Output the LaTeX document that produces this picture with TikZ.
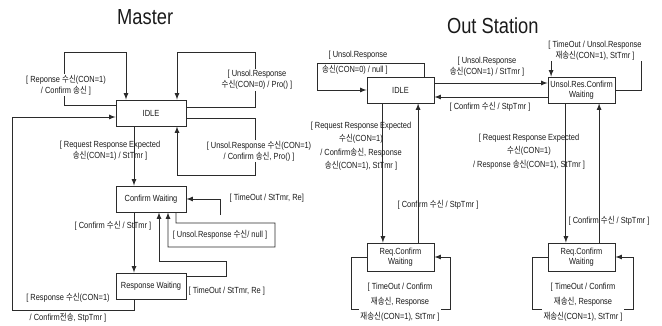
\documentclass[tikz,border=0pt]{standalone}
\usepackage{fontspec}
\usepackage{xcolor}
\usepackage{tikz}
\setmainfont{Liberation Sans}[FakeStretch=0.84]
\newfontfamily\krfont{Noto Sans CJK KR}[FakeStretch=0.84]
\newcommand{\ko}[1]{{\krfont #1}}
\definecolor{LineGray}{HTML}{2B2B2B}
\definecolor{TextBlack}{HTML}{1A1A1A}

\begin{document}
\begin{tikzpicture}[
  state/.style={rectangle, draw=LineGray, line width=0.6pt, fill=white, align=center, minimum width=1.75cm, minimum height=0.65cm, inner sep=1pt, text=TextBlack, font=\fontsize{6.3}{7.4}\selectfont},
  ostate/.style={state, minimum width=1.675cm},
  lbl/.style={align=center, inner sep=1pt, text=TextBlack, font=\fontsize{6.3}{7.8}\selectfont},
  wlbl/.style={lbl, fill=white},
  title/.style={anchor=base, text=TextBlack, font=\fontsize{15.5}{18}\selectfont},
  arrow/.style={-latex, line width=0.6pt, draw=LineGray}
]
\useasboundingbox (0,0) rectangle (16.55,-8.15);

% Master
\node[title] (mtitle) at (3.63,-0.625) {Master};
\node[state] (midle) at (3.775,-2.825) {IDLE};
\node[state] (mconf) at (3.775,-4.975) {Confirm Waiting};
\node[state] (mresp) at (3.775,-7.15) {Response Waiting};
\coordinate (mtoa) at (5.5,-5.375);

\draw[arrow] ([yshift=0.2cm]midle.west) -| (1.6,-1.3) -| ([xshift=-0.625cm]midle.north);
\draw[arrow] ([yshift=0.15cm]midle.east) -| (6.375,-1.3) -| ([xshift=0.65cm]midle.north);
\draw[arrow] ([yshift=-0.125cm]midle.east) -| (6.375,-4.375) -| ([xshift=0.65cm]midle.south);
\draw[arrow] ([xshift=-0.425cm]midle.south) -- ([xshift=-0.425cm]mconf.north);
\draw[arrow] ([xshift=-0.425cm]mconf.south) -- ([xshift=-0.425cm]mresp.north);
\draw[arrow] ([xshift=-0.425cm]mresp.south) |- (0.3,-7.75) |- ([yshift=-0.1cm]midle.west);
\draw[arrow] (mtoa) |- (mconf.east);
\draw[arrow] ([xshift=0.625cm]mconf.south) |- (6.875,-5.575) |- (4.2,-6.175) -- ([xshift=0.425cm]mconf.south);
\draw[arrow] ([yshift=0.25cm]mresp.east) -| (5.65,-6.525) -| ([xshift=0.2cm]mconf.south);

\node[wlbl] (mrsp) at (1.65,-2.125) {[ Reponse \ko{수신}(CON=1)\\/ Confirm \ko{송신} ]};
\node[wlbl] (munsol0) at (6.425,-2.0) {[ Unsol.Response\\\ko{수신}(CON=0) / Pro() ]};
\node[wlbl] (munsol1) at (6.475,-3.775) {[ Unsol.Response \ko{수신}(CON=1)\\/ Confirm \ko{송신}, Pro() ]};
\node[lbl] (mreq) at (2.75,-3.775) {[ Request Response Expected\\\ko{송신}(CON=1) / StTmr ]};
\node[lbl] (mcfm) at (2.825,-5.65) {[ Confirm \ko{수신} / StTmr ]};
\node[lbl, anchor=west] (mto1) at (5.7,-4.95) {[ TimeOut / StTmr, Re]};
\node[lbl] (munsol2) at (5.5,-5.875) {[ Unsol.Response \ko{수신}/ null ]};
\node[lbl, anchor=west] (mto2) at (4.675,-7.275) {[ TimeOut / StTmr, Re ]};
\node[lbl] (mback1) at (1.7,-7.45) {[ Response \ko{수신}(CON=1)};
\node[lbl] (mback2) at (1.7,-7.95) {/ Confirm\ko{전송}, StpTmr ]};

% Out Station
\node[title] (otitle) at (12.32,-0.83) {Out Station};
\node[ostate] (oidle) at (10.0125,-2.25) {IDLE};
\node[ostate] (ounsol) at (14.5375,-2.25) {Unsol.Res.Confirm\\Waiting};
\node[ostate, minimum height=0.7cm] (oreq1) at (10.0125,-6.425) {Req.Confirm\\Waiting};
\node[ostate, minimum height=0.7cm] (oreq2) at (14.5375,-6.425) {Req.Confirm\\Waiting};

\draw[arrow] ([yshift=0.175cm]oidle.east) -- ([yshift=0.175cm]ounsol.west);
\draw[arrow] ([yshift=-0.175cm]ounsol.west) -- ([yshift=-0.175cm]oidle.east);
\draw[arrow] ([xshift=0.6cm]oidle.north) |- (7.925,-1.575) |- (oidle.west);
\draw[arrow] ([xshift=-0.44cm]oidle.south) -- ([xshift=-0.44cm]oreq1.north);
\draw[arrow] ([xshift=0.44cm]oreq1.north) -- ([xshift=0.44cm]oidle.south);
\draw[arrow] ([xshift=-0.39cm]ounsol.south) -- ([xshift=-0.39cm]oreq2.north);
\draw[arrow] ([xshift=0.44cm]oreq2.north) -- ([xshift=0.44cm]ounsol.south);
\draw[arrow] (ounsol.east) -| (16.025,-1.475) -| ([xshift=-0.76cm]ounsol.north);
\draw[arrow] (oreq1.west) -| (8.775,-7.725) -- (11.25,-7.725) |- (oreq1.east);
\draw[arrow] (oreq2.west) -| (13.3,-7.725) -- (15.825,-7.725) |- (oreq2.east);

\node[lbl] (ounsola) at (8.95,-1.375) {[ Unsol.Response};
\node[lbl] (ounsolb) at (8.875,-1.75) {\ko{송신}(CON=0) / null ]};
\node[lbl] (osend) at (12.175,-1.675) {[ Unsol.Response\\\ko{송신}(CON=1) / StTmr ]};
\node[lbl] (ocfm) at (12.25,-2.675) {[ Confirm \ko{수신} / StpTmr ]};
\node[wlbl] (oresend) at (14.875,-1.26) {[ TimeOut / Unsol.Response\\\ko{재송신}(CON=1), StTmr ]};
\node[lbl, font=\fontsize{6.3}{9.6}\selectfont] (oreqa) at (9.025,-3.66) {[ Request Response Expected\\\ko{수신}(CON=1)\\/ Confirm\ko{송신}, Response\\\ko{송신}(CON=1), StTmr ]};
\node[lbl] (ocfm1) at (10.95,-5.125) {[ Confirm \ko{수신} / StpTmr ]};
\node[lbl, font=\fontsize{6.3}{9.6}\selectfont] (oreqb) at (13.225,-3.79) {[ Request Response Expected\\\ko{수신}(CON=1)\\/ Response \ko{송신}(CON=1), StTmr ]};
\node[lbl] (ocfm2) at (15.225,-5.525) {[ Confirm \ko{수신} / StpTmr ]};
\node[wlbl, font=\fontsize{6.3}{10.6}\selectfont] (oto1) at (10.0,-7.55) {[ TimeOut / Confirm\\\ko{재송신}, Response\\\ko{재송신}(CON=1), StTmr ]};
\node[wlbl, font=\fontsize{6.3}{10.6}\selectfont] (oto2) at (14.575,-7.55) {[ TimeOut / Confirm\\\ko{재송신}, Response\\\ko{재송신}(CON=1), StTmr ]};
\end{tikzpicture}
\end{document}
